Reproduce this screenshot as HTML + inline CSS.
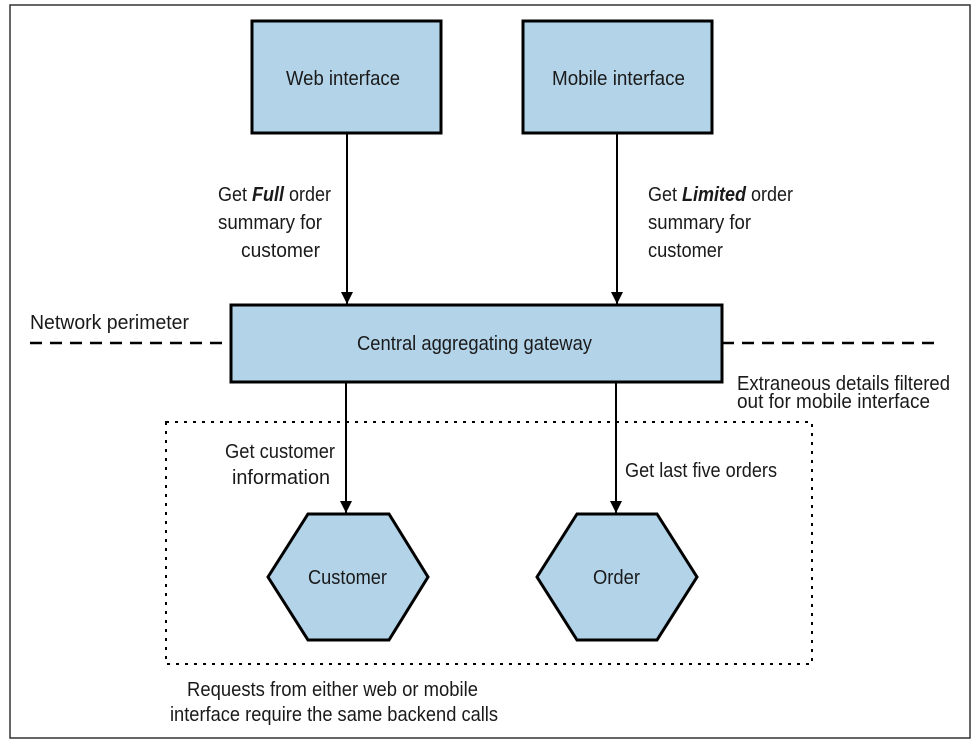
<!DOCTYPE html>
<html><head><meta charset="utf-8"><style>
body{margin:0;background:#fff}
svg text{font-family:"Liberation Sans Narrow","Liberation Sans",sans-serif;font-size:20px;fill:#1a1a1a}
</style></head><body>
<svg width="975" height="751" viewBox="0 0 975 751" xmlns="http://www.w3.org/2000/svg">
<defs>
<marker id="b" viewBox="0 0 12 12" markerWidth="12" markerHeight="12" refX="12" refY="6" orient="auto" markerUnits="userSpaceOnUse"><path d="M0,0 L12,6 L0,12 z" fill="#000"/></marker></defs>
<rect x="10" y="5" width="960" height="733" fill="none" stroke="#333" stroke-width="1.5"/>
<line x1="30" y1="343" x2="232" y2="343" stroke="#000" stroke-width="2.5" stroke-dasharray="12,8"/>
<line x1="722" y1="343" x2="942" y2="343" stroke="#000" stroke-width="2.5" stroke-dasharray="12,8"/>
<rect x="166" y="422" width="646" height="242" fill="none" stroke="#000" stroke-width="2" stroke-dasharray="3,6"/>
<rect x="252" y="21" width="189" height="112" fill="#b3d3e9" stroke="#000" stroke-width="3"/>
<rect x="523" y="21" width="189" height="112" fill="#b3d3e9" stroke="#000" stroke-width="3"/>
<rect x="231" y="305" width="491" height="77" fill="#b3d3e9" stroke="#000" stroke-width="3"/>
<polygon points="308,514 389,514 428,577 389,640 308,640 268,577" fill="#b3d3e9" stroke="#000" stroke-width="3"/>
<polygon points="577,514 657,514 697,577 657,640 577,640 537,577" fill="#b3d3e9" stroke="#000" stroke-width="3"/>
<line x1="347" y1="133" x2="347" y2="304" stroke="#000" stroke-width="2" marker-end="url(#b)"/>
<line x1="617" y1="133" x2="617" y2="304" stroke="#000" stroke-width="2" marker-end="url(#b)"/>
<line x1="346" y1="382" x2="346" y2="513" stroke="#000" stroke-width="2" marker-end="url(#b)"/>
<line x1="616" y1="382" x2="616" y2="513" stroke="#000" stroke-width="2" marker-end="url(#b)"/>
<text x="286" y="85" textLength="114" lengthAdjust="spacingAndGlyphs">Web interface</text>
<text x="552" y="85" textLength="133" lengthAdjust="spacingAndGlyphs">Mobile interface</text>
<text x="357" y="350" textLength="235" lengthAdjust="spacingAndGlyphs">Central aggregating gateway</text>
<text x="308" y="584" textLength="79" lengthAdjust="spacingAndGlyphs">Customer</text>
<text x="593" y="584" textLength="47" lengthAdjust="spacingAndGlyphs">Order</text>
<text x="218" y="201" textLength="113" lengthAdjust="spacingAndGlyphs">Get <tspan font-weight="bold" font-style="italic">Full</tspan> order</text>
<text x="218" y="229" textLength="104" lengthAdjust="spacingAndGlyphs">summary for</text>
<text x="241" y="257" textLength="79" lengthAdjust="spacingAndGlyphs">customer</text>
<text x="648" y="201" textLength="145" lengthAdjust="spacingAndGlyphs">Get <tspan font-weight="bold" font-style="italic">Limited</tspan> order</text>
<text x="648" y="229" textLength="103" lengthAdjust="spacingAndGlyphs">summary for</text>
<text x="648" y="257" textLength="75" lengthAdjust="spacingAndGlyphs">customer</text>
<text x="30" y="329" textLength="159" lengthAdjust="spacingAndGlyphs">Network perimeter</text>
<text x="737" y="390" textLength="213" lengthAdjust="spacingAndGlyphs">Extraneous details filtered</text>
<text x="737" y="408" textLength="193" lengthAdjust="spacingAndGlyphs">out for mobile interface</text>
<text x="225" y="458" textLength="110" lengthAdjust="spacingAndGlyphs">Get customer</text>
<text x="232" y="484" textLength="98" lengthAdjust="spacingAndGlyphs">information</text>
<text x="625" y="477" textLength="152" lengthAdjust="spacingAndGlyphs">Get last five orders</text>
<text x="187" y="696" textLength="291" lengthAdjust="spacingAndGlyphs">Requests from either web or mobile</text>
<text x="170" y="721" textLength="328" lengthAdjust="spacingAndGlyphs">interface require the same backend calls</text>
</svg>
</body></html>
